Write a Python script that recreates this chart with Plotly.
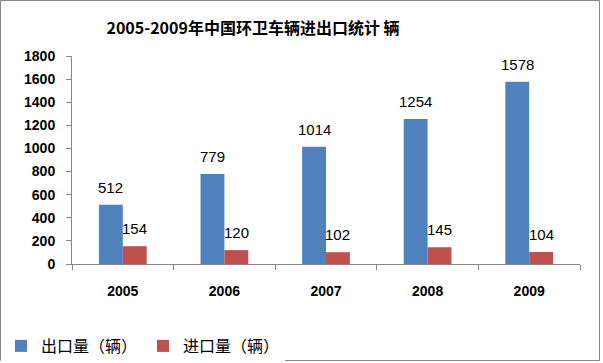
import plotly.graph_objects as go

years = ["2005", "2006", "2007", "2008", "2009"]
export_vals = [512, 779, 1014, 1254, 1578]
import_vals = [154, 120, 102, 145, 104]
y_ticks = [0, 200, 400, 600, 800, 1000, 1200, 1400, 1600, 1800]

W, H = 603, 363
L, R, T, B = 72, 23, 56, 99
pw, ph = W - L - R, H - T - B
BARGAP = 0.53

def px_x(p):
    return (p - L) / pw

def px_y(p):
    return (H - B - p) / ph

label_font = dict(family="Liberation Sans", size=15, color="#000000")

fig = go.Figure()
fig.add_trace(go.Bar(
    x=years, y=export_vals, name="出口量（辆）",
    marker=dict(color="#4F81BD", line=dict(width=0)),
))
fig.add_trace(go.Bar(
    x=years, y=import_vals, name="进口量（辆）",
    marker=dict(color="#C0504D", line=dict(width=0)),
))

# value labels above each bar (offset of half a bar within the group)
half = (1 - BARGAP) / 4
for series, off in ((export_vals, -half), (import_vals, half)):
    for i, v in enumerate(series):
        fig.add_annotation(x=i + off, y=v, text=str(v), showarrow=False,
                           xref="x", yref="y", yanchor="bottom", yshift=7,
                           font=label_font)

fig.update_layout(
    width=W, height=H,
    margin=dict(l=L, r=R, t=T, b=B, autoexpand=False),
    paper_bgcolor="white", plot_bgcolor="white",
    barmode="group", bargap=BARGAP, bargroupgap=0,
    title=dict(text="<b>2005-2009年中国环卫车辆进出口统计 辆</b>",
               xref="container", x=253 / W, xanchor="center",
               yref="container", y=1 - 28 / H, yanchor="middle",
               font=dict(family="Noto Sans CJK SC", size=16, color="#000000")),
    font=dict(family="Liberation Sans", color="#000000"),
    xaxis=dict(
        type="category", showline=True, linecolor="#868686", linewidth=1,
        ticks="outside", tickson="boundaries", ticklen=5, tickcolor="#868686",
        tickfont=dict(family="Liberation Sans", size=14, weight="bold"),
        ticklabelstandoff=14,
        showgrid=False, zeroline=False,
    ),
    yaxis=dict(
        range=[0, 1800], tickvals=y_ticks, showline=True, linecolor="#868686",
        linewidth=1, ticks="outside", ticklen=5, tickcolor="#868686",
        tickfont=dict(family="Liberation Sans", size=14, weight="bold"),
        ticklabelstandoff=8,
        showgrid=False, zeroline=False,
    ),
    legend=dict(orientation="h", x=px_x(1), y=px_y(329), xanchor="left",
                yanchor="top",
                font=dict(family="Noto Sans CJK SC", size=16, color="#000000"),
                itemwidth=30, traceorder="normal",
                entrywidth=97, entrywidthmode="pixels"),
    showlegend=True,
)

fig.add_shape(type="rect", xref="paper", yref="paper",
              x0=px_x(0.5), x1=px_x(599.5), y0=px_y(360.5), y1=px_y(0.5),
              line=dict(color="#868686", width=1), layer="above")

fig.write_html("out.html", config={"displayModeBar": False},
               post_script="document.body.style.margin='0';document.body.style.overflow='hidden';")
